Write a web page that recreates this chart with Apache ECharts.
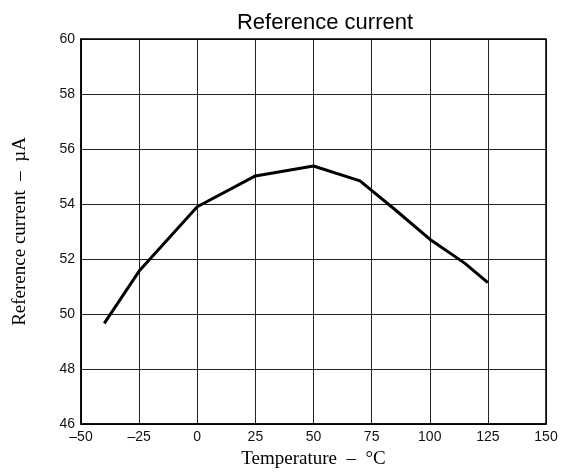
<!DOCTYPE html>
<html><head><meta charset="utf-8">
<script src="https://cdn.jsdelivr.net/npm/echarts@6/dist/echarts.min.js"></script>
<style>html,body{margin:0;padding:0;background:#fff}#c{width:568px;height:475px}</style>
</head><body><div id="c"></div>
<script>
var temperatures = [-40, -25, 0, 25, 50, 70, 85, 100, 115, 125];
var currents = [49.66, 51.56, 53.9, 55.02, 55.38, 54.84, 53.8, 52.72, 51.85, 51.14];
var xTicks = [-50, -25, 0, 25, 50, 75, 100, 125, 150];
var yTicks = [46, 48, 50, 52, 54, 56, 58, 60];

var chart = echarts.init(document.getElementById('c'), null, {renderer: 'canvas'});
chart.setOption({
  animation: false,
  backgroundColor: '#fff',
  title: {
    text: 'Reference current', left: 320, top: 7, textAlign: 'center',
    textStyle: {fontFamily: 'Liberation Sans', fontSize: 22, fontWeight: 'normal', color: '#000'}
  },
  grid: {left: 81, right: 22, top: 39, bottom: 51},
  xAxis: {
    type: 'value', min: -50, max: 150, interval: 25,
    name: 'Temperature  –  °C', nameLocation: 'middle', nameGap: 26,
    nameTextStyle: {fontFamily: 'Liberation Serif', fontSize: 19, color: '#000'},
    axisLine: {show: true, onZero: false, lineStyle: {color: '#000', width: 1.5}},
    axisTick: {show: false},
    axisLabel: {fontFamily: 'Liberation Sans', fontSize: 14, color: '#111', margin: 6,
      formatter: function (v) { return xTicks.indexOf(v) >= 0 ? String(v).replace('-', '\u2013') : ''; }},
    splitLine: {show: true, lineStyle: {color: '#222', width: 1}}
  },
  yAxis: {
    type: 'value', min: 46, max: 60, interval: 2,
    name: 'Reference current  –  µA', nameLocation: 'middle', nameGap: 51, nameRotate: 90,
    nameTextStyle: {fontFamily: 'Liberation Serif', fontSize: 19, color: '#000'},
    axisLine: {show: true, onZero: false, lineStyle: {color: '#000', width: 1.5}},
    axisTick: {show: false},
    axisLabel: {fontFamily: 'Liberation Sans', fontSize: 14, color: '#111', margin: 6,
      formatter: function (v) { return yTicks.indexOf(v) >= 0 ? String(v) : ''; }},
    splitLine: {show: true, lineStyle: {color: '#222', width: 1}}
  },
  series: [{
    type: 'line', data: temperatures.map(function (t, i) { return [t, currents[i]]; }),
    showSymbol: false, lineStyle: {color: '#000', width: 3}
  }],
  graphic: [{
    type: 'rect', shape: {x: 81, y: 39, width: 465, height: 385},
    style: {fill: 'none', stroke: '#000', lineWidth: 1.5}, silent: true, z: 10
  }]
});
</script></body></html>
